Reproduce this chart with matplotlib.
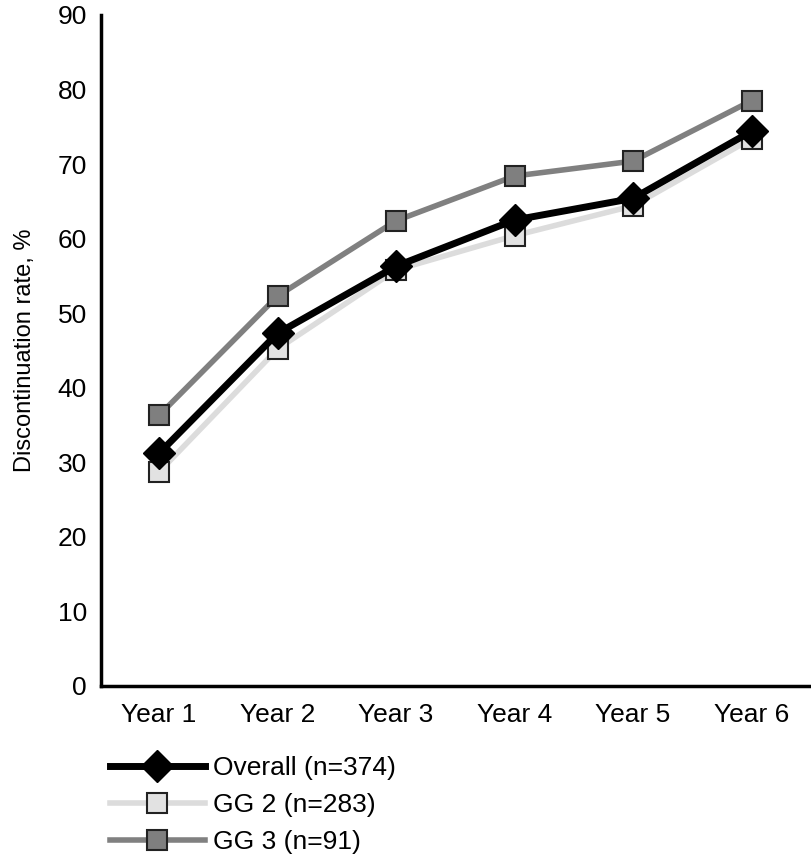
import matplotlib.pyplot as plt

plt.rcParams['font.family'] = ['Liberation Sans', 'DejaVu Sans']

# Données
years = ['Year 1', 'Year 2', 'Year 3', 'Year 4', 'Year 5', 'Year 6']
overall = [31.2, 47.3, 56.3, 62.5, 65.4, 74.4]
gg2 = [28.7, 45.2, 55.8, 60.4, 64.4, 73.4]
gg3 = [36.3, 52.3, 62.4, 68.4, 70.4, 78.5]

fig = plt.figure(figsize=(8.12, 8.66), dpi=100)
ax = fig.add_axes([0.1244, 0.2079, 0.8756, 0.7748])

x = range(len(years))

# Tracer les courbes
l2, = ax.plot(x, gg2, color='#dcdcdc', lw=4, marker='s', ms=15,
              mfc='#e2e2e2', mec='#222222', mew=1.5, zorder=2,
              label='GG 2 (n=283)')
l3, = ax.plot(x, gg3, color='#808080', lw=4, marker='s', ms=15,
              mfc='#7f7f7f', mec='#222222', mew=1.5, zorder=3,
              label='GG 3 (n=91)')
l1, = ax.plot(x, overall, color='black', lw=5, marker='D', ms=16,
              mfc='black', mec='black', zorder=4,
              label='Overall (n=374)')

ax.set_xlim(-0.49, 5.51)
ax.set_ylim(0, 90)
ax.set_xticks(list(x))
ax.set_xticklabels(years)
ax.set_yticks(range(0, 91, 10))
ax.tick_params(length=0, labelsize=19)
ax.tick_params(axis='x', pad=12)
ax.tick_params(axis='y', pad=10)
ax.set_ylabel('Discontinuation rate, %', fontsize=17, labelpad=16)

for s in ['top', 'right']:
    ax.spines[s].set_visible(False)
for s in ['left', 'bottom']:
    ax.spines[s].set_linewidth(2.5)

fig.legend(handles=[l1, l2, l3], loc='upper left',
           bbox_to_anchor=(0.135, 1 - 756 / 866), frameon=False,
           fontsize=19, handlelength=3.6, handletextpad=0.3,
           labelspacing=0.5, borderpad=0, borderaxespad=0)

plt.savefig('out.png', dpi=100)
